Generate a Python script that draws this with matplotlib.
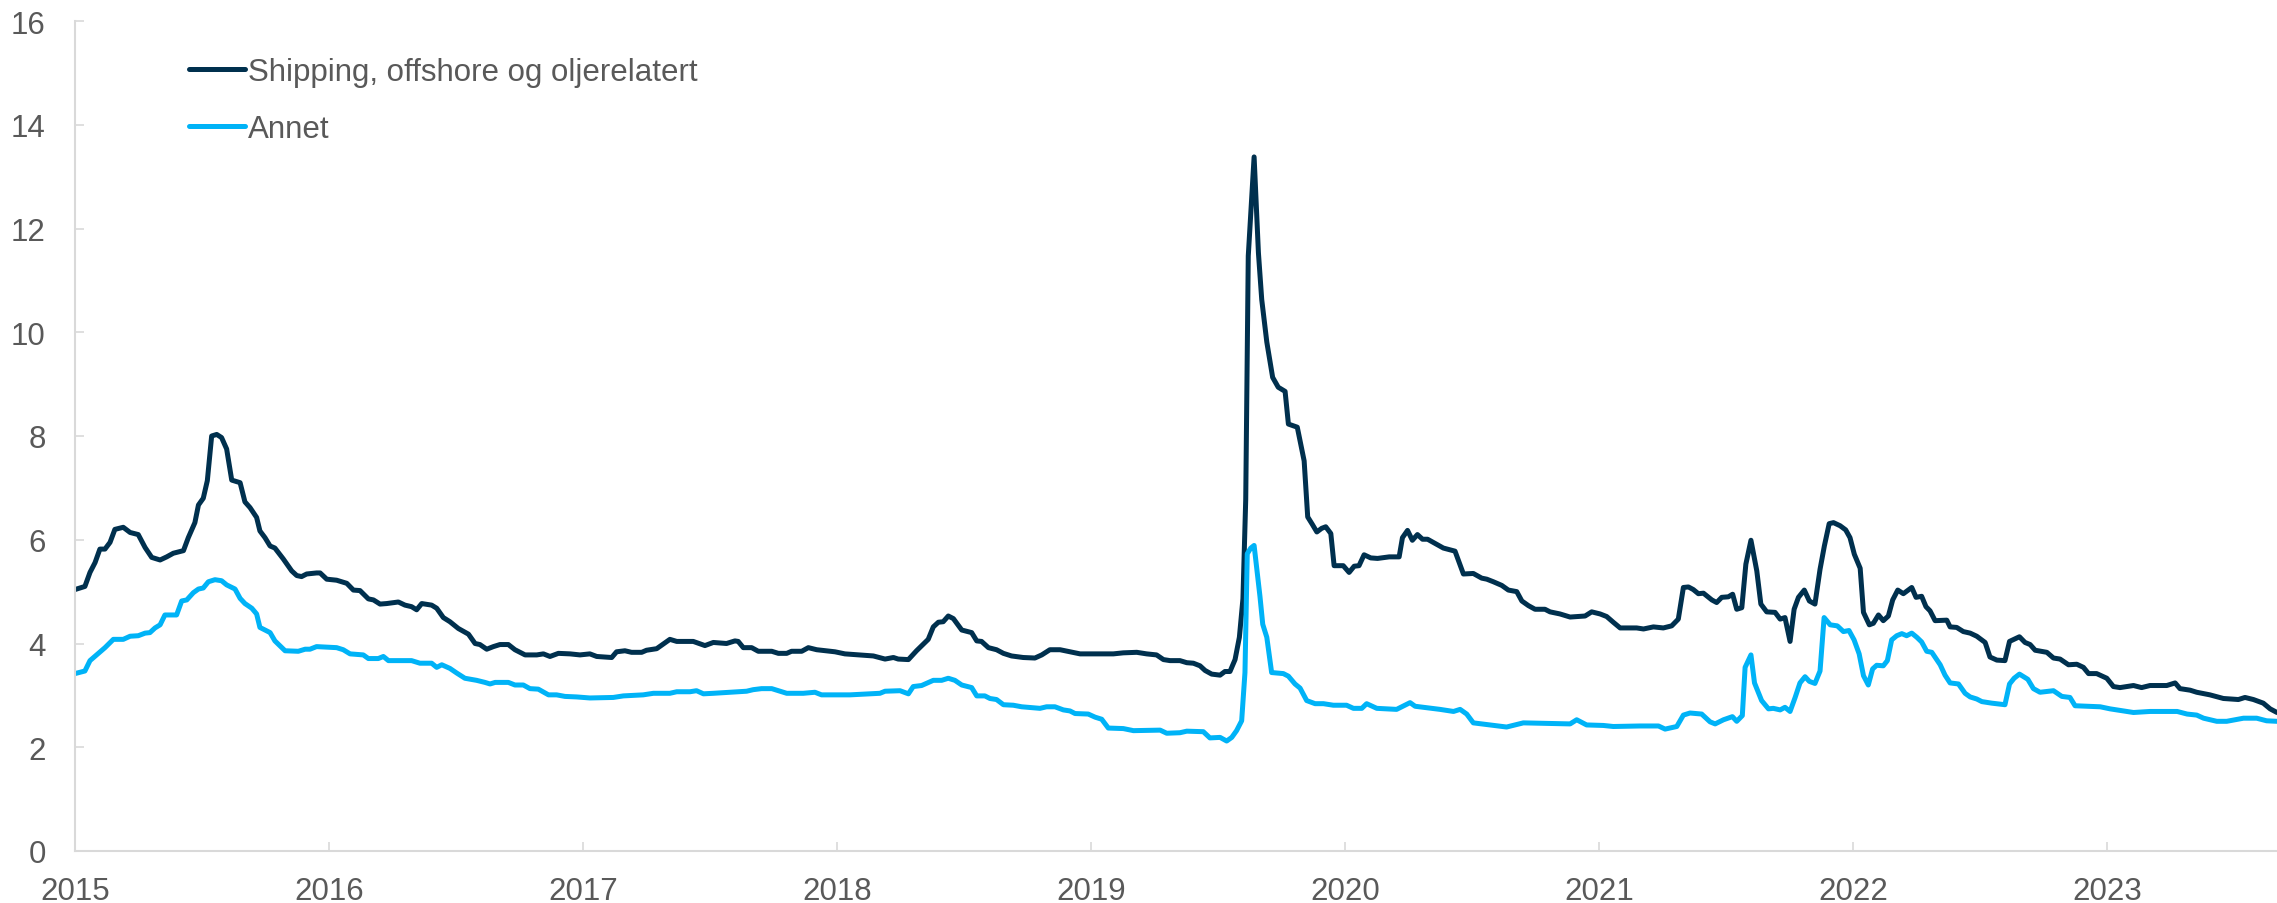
import matplotlib
matplotlib.use('Agg')
from matplotlib import pyplot as plt

# Shipping, offshore og oljerelatert (decimal year, value)
ship_t = [2015.000, 2015.039, 2015.059, 2015.079, 2015.098, 2015.118, 2015.138, 2015.157, 2015.190, 2015.217,
          2015.249, 2015.276, 2015.302, 2015.335, 2015.361, 2015.387, 2015.427, 2015.446, 2015.472, 2015.486,
          2015.505, 2015.521, 2015.538, 2015.558, 2015.577, 2015.597, 2015.617, 2015.650, 2015.669, 2015.689,
          2015.715, 2015.728, 2015.748, 2015.768, 2015.787, 2015.820, 2015.853, 2015.873, 2015.892, 2015.912,
          2015.951, 2015.965, 2015.991, 2016.030, 2016.070, 2016.096, 2016.122, 2016.155, 2016.175, 2016.201,
          2016.227, 2016.273, 2016.299, 2016.325, 2016.345, 2016.365, 2016.404, 2016.424, 2016.450, 2016.476,
          2016.509, 2016.549, 2016.575, 2016.594, 2016.621, 2016.647, 2016.673, 2016.706, 2016.732, 2016.772,
          2016.818, 2016.844, 2016.870, 2016.903, 2016.949, 2016.988, 2017.027, 2017.054, 2017.113, 2017.132,
          2017.165, 2017.191, 2017.231, 2017.250, 2017.290, 2017.316, 2017.342, 2017.369, 2017.434, 2017.480,
          2017.513, 2017.565, 2017.598, 2017.611, 2017.631, 2017.664, 2017.690, 2017.743, 2017.769, 2017.802,
          2017.821, 2017.861, 2017.887, 2017.920, 2017.992, 2018.031, 2018.143, 2018.189, 2018.222, 2018.241,
          2018.281, 2018.313, 2018.340, 2018.359, 2018.379, 2018.399, 2018.418, 2018.438, 2018.458, 2018.491,
          2018.530, 2018.550, 2018.569, 2018.596, 2018.628, 2018.655, 2018.687, 2018.733, 2018.779, 2018.806,
          2018.838, 2018.878, 2018.917, 2018.957, 2019.035, 2019.088, 2019.127, 2019.180, 2019.219, 2019.258,
          2019.285, 2019.311, 2019.350, 2019.377, 2019.403, 2019.429, 2019.449, 2019.475, 2019.508, 2019.527,
          2019.547, 2019.567, 2019.584, 2019.598, 2019.609, 2019.614, 2019.619, 2019.642, 2019.659, 2019.672,
          2019.692, 2019.715, 2019.737, 2019.764, 2019.777, 2019.812, 2019.839, 2019.853, 2019.872, 2019.889,
          2019.908, 2019.924, 2019.944, 2019.957, 2019.993, 2020.016, 2020.036, 2020.055, 2020.075, 2020.101,
          2020.128, 2020.174, 2020.213, 2020.226, 2020.246, 2020.265, 2020.285, 2020.305, 2020.325, 2020.387,
          2020.433, 2020.466, 2020.505, 2020.538, 2020.558, 2020.584, 2020.617, 2020.643, 2020.676, 2020.696,
          2020.722, 2020.748, 2020.787, 2020.807, 2020.846, 2020.886, 2020.945, 2020.971, 2021.004, 2021.030,
          2021.056, 2021.083, 2021.148, 2021.175, 2021.214, 2021.253, 2021.286, 2021.312, 2021.332, 2021.352,
          2021.371, 2021.391, 2021.411, 2021.444, 2021.463, 2021.483, 2021.509, 2021.526, 2021.542, 2021.562,
          2021.578, 2021.598, 2021.621, 2021.637, 2021.660, 2021.693, 2021.713, 2021.732, 2021.752, 2021.768,
          2021.785, 2021.808, 2021.828, 2021.850, 2021.870, 2021.887, 2021.906, 2021.923, 2021.949, 2021.971,
          2021.988, 2022.005, 2022.028, 2022.041, 2022.064, 2022.080, 2022.100, 2022.119, 2022.139, 2022.156,
          2022.176, 2022.198, 2022.231, 2022.248, 2022.270, 2022.287, 2022.303, 2022.323, 2022.369, 2022.382,
          2022.408, 2022.434, 2022.461, 2022.487, 2022.520, 2022.539, 2022.566, 2022.598, 2022.616, 2022.655,
          2022.677, 2022.697, 2022.717, 2022.763, 2022.789, 2022.815, 2022.848, 2022.881, 2022.907, 2022.927,
          2022.959, 2022.999, 2023.025, 2023.051, 2023.104, 2023.136, 2023.169, 2023.235, 2023.268, 2023.287,
          2023.327, 2023.353, 2023.405, 2023.458, 2023.517, 2023.543, 2023.576, 2023.615, 2023.642, 2023.669]
ship_v = [5.04, 5.10, 5.37, 5.56, 5.82, 5.82, 5.95, 6.20, 6.24, 6.14,
          6.10, 5.85, 5.66, 5.61, 5.67, 5.74, 5.79, 6.04, 6.33, 6.67,
          6.80, 7.14, 8.00, 8.03, 7.97, 7.75, 7.15, 7.10, 6.73, 6.62,
          6.43, 6.17, 6.04, 5.88, 5.84, 5.63, 5.40, 5.31, 5.29, 5.34,
          5.36, 5.36, 5.24, 5.22, 5.16, 5.03, 5.02, 4.86, 4.84, 4.76,
          4.77, 4.80, 4.74, 4.71, 4.65, 4.77, 4.74, 4.68, 4.50, 4.42,
          4.29, 4.18, 4.00, 3.98, 3.89, 3.94, 3.98, 3.98, 3.88, 3.78,
          3.78, 3.80, 3.75, 3.81, 3.80, 3.78, 3.80, 3.75, 3.73, 3.84,
          3.86, 3.83, 3.83, 3.87, 3.90, 3.99, 4.08, 4.04, 4.04, 3.96,
          4.02, 4.00, 4.05, 4.04, 3.92, 3.92, 3.85, 3.85, 3.81, 3.81,
          3.85, 3.85, 3.92, 3.88, 3.84, 3.80, 3.76, 3.70, 3.73, 3.70,
          3.69, 3.86, 3.99, 4.08, 4.32, 4.41, 4.42, 4.53, 4.48, 4.26,
          4.21, 4.05, 4.04, 3.92, 3.88, 3.81, 3.76, 3.73, 3.72, 3.78,
          3.88, 3.88, 3.84, 3.80, 3.80, 3.80, 3.82, 3.83, 3.80, 3.78,
          3.69, 3.67, 3.67, 3.63, 3.62, 3.57, 3.48, 3.41, 3.39, 3.46,
          3.46, 3.69, 4.12, 4.86, 6.78, 9.16, 11.47, 13.38, 11.53, 10.63,
          9.81, 9.13, 8.94, 8.86, 8.23, 8.17, 7.52, 6.44, 6.29, 6.15,
          6.22, 6.25, 6.12, 5.50, 5.50, 5.37, 5.49, 5.50, 5.71, 5.65,
          5.64, 5.67, 5.67, 6.04, 6.18, 5.99, 6.10, 6.01, 6.01, 5.84,
          5.78, 5.34, 5.35, 5.26, 5.24, 5.19, 5.12, 5.03, 5.00, 4.82,
          4.73, 4.66, 4.66, 4.61, 4.57, 4.51, 4.53, 4.61, 4.57, 4.52,
          4.41, 4.30, 4.30, 4.28, 4.32, 4.30, 4.34, 4.47, 5.08, 5.09,
          5.04, 4.96, 4.97, 4.84, 4.79, 4.89, 4.90, 4.95, 4.66, 4.69,
          5.53, 5.99, 5.40, 4.76, 4.61, 4.60, 4.47, 4.50, 4.04, 4.66,
          4.89, 5.03, 4.82, 4.76, 5.43, 5.88, 6.31, 6.33, 6.27, 6.19,
          6.04, 5.72, 5.45, 4.60, 4.36, 4.39, 4.55, 4.44, 4.53, 4.84,
          5.03, 4.96, 5.08, 4.89, 4.91, 4.71, 4.63, 4.44, 4.45, 4.32,
          4.31, 4.23, 4.20, 4.14, 4.02, 3.74, 3.68, 3.67, 4.04, 4.13,
          4.02, 3.98, 3.87, 3.83, 3.72, 3.70, 3.59, 3.60, 3.54, 3.42,
          3.42, 3.33, 3.17, 3.15, 3.19, 3.15, 3.19, 3.19, 3.24, 3.13,
          3.10, 3.06, 3.01, 2.94, 2.92, 2.96, 2.92, 2.85, 2.74, 2.67]

# Annet (decimal year, value)
annet_t = [2015.000, 2015.039, 2015.059, 2015.085, 2015.118, 2015.151, 2015.190, 2015.217, 2015.249, 2015.276,
           2015.295, 2015.315, 2015.335, 2015.354, 2015.400, 2015.420, 2015.440, 2015.466, 2015.486, 2015.505,
           2015.525, 2015.551, 2015.577, 2015.597, 2015.630, 2015.650, 2015.669, 2015.696, 2015.715, 2015.728,
           2015.748, 2015.768, 2015.787, 2015.827, 2015.879, 2015.906, 2015.925, 2015.951, 2016.030, 2016.056,
           2016.083, 2016.135, 2016.155, 2016.194, 2016.214, 2016.234, 2016.325, 2016.358, 2016.404, 2016.424,
           2016.444, 2016.476, 2016.503, 2016.535, 2016.581, 2016.614, 2016.634, 2016.654, 2016.706, 2016.732,
           2016.765, 2016.791, 2016.824, 2016.864, 2016.896, 2016.929, 2016.975, 2017.027, 2017.119, 2017.159,
           2017.237, 2017.277, 2017.342, 2017.369, 2017.421, 2017.447, 2017.474, 2017.513, 2017.644, 2017.670,
           2017.703, 2017.743, 2017.802, 2017.867, 2017.913, 2017.939, 2018.051, 2018.169, 2018.189, 2018.248,
           2018.281, 2018.300, 2018.333, 2018.379, 2018.412, 2018.438, 2018.464, 2018.491, 2018.530, 2018.550,
           2018.582, 2018.602, 2018.628, 2018.655, 2018.694, 2018.727, 2018.799, 2018.825, 2018.858, 2018.891,
           2018.917, 2018.937, 2018.989, 2019.016, 2019.042, 2019.068, 2019.127, 2019.167, 2019.272, 2019.298,
           2019.350, 2019.377, 2019.442, 2019.468, 2019.508, 2019.534, 2019.554, 2019.573, 2019.593, 2019.606,
           2019.615, 2019.629, 2019.642, 2019.652, 2019.665, 2019.676, 2019.692, 2019.711, 2019.757, 2019.777,
           2019.803, 2019.823, 2019.849, 2019.882, 2019.915, 2019.954, 2020.006, 2020.033, 2020.066, 2020.085,
           2020.125, 2020.203, 2020.256, 2020.276, 2020.374, 2020.427, 2020.453, 2020.479, 2020.505, 2020.636,
           2020.702, 2020.886, 2020.912, 2020.951, 2021.017, 2021.056, 2021.161, 2021.234, 2021.260, 2021.306,
           2021.332, 2021.358, 2021.404, 2021.437, 2021.457, 2021.490, 2021.525, 2021.542, 2021.564, 2021.575,
           2021.598, 2021.612, 2021.640, 2021.667, 2021.686, 2021.713, 2021.732, 2021.752, 2021.772, 2021.791,
           2021.811, 2021.828, 2021.850, 2021.870, 2021.886, 2021.910, 2021.938, 2021.962, 2021.984, 2022.004,
           2022.024, 2022.041, 2022.060, 2022.077, 2022.093, 2022.119, 2022.135, 2022.152, 2022.172, 2022.192,
           2022.211, 2022.231, 2022.251, 2022.270, 2022.290, 2022.310, 2022.343, 2022.362, 2022.382, 2022.415,
           2022.441, 2022.461, 2022.487, 2022.507, 2022.546, 2022.598, 2022.616, 2022.634, 2022.655, 2022.688,
           2022.710, 2022.736, 2022.789, 2022.822, 2022.854, 2022.874, 2022.973, 2023.012, 2023.104, 2023.169,
           2023.276, 2023.315, 2023.353, 2023.380, 2023.432, 2023.471, 2023.537, 2023.589, 2023.628, 2023.669]
annet_v = [3.42, 3.47, 3.67, 3.78, 3.92, 4.08, 4.08, 4.14, 4.15, 4.20,
           4.21, 4.30, 4.36, 4.55, 4.55, 4.82, 4.84, 4.98, 5.05, 5.07,
           5.19, 5.23, 5.21, 5.13, 5.05, 4.87, 4.77, 4.68, 4.57, 4.31,
           4.26, 4.21, 4.05, 3.86, 3.85, 3.89, 3.89, 3.94, 3.92, 3.88,
           3.80, 3.78, 3.71, 3.71, 3.75, 3.67, 3.67, 3.62, 3.62, 3.54,
           3.59, 3.52, 3.43, 3.33, 3.29, 3.25, 3.22, 3.25, 3.25, 3.20,
           3.20, 3.13, 3.12, 3.01, 3.01, 2.98, 2.97, 2.95, 2.96, 2.99,
           3.01, 3.04, 3.04, 3.07, 3.07, 3.09, 3.03, 3.04, 3.08, 3.11,
           3.13, 3.13, 3.04, 3.04, 3.06, 3.01, 3.01, 3.04, 3.08, 3.09,
           3.03, 3.17, 3.19, 3.29, 3.29, 3.33, 3.29, 3.20, 3.15, 2.99,
           2.99, 2.94, 2.92, 2.82, 2.81, 2.78, 2.75, 2.78, 2.78, 2.72,
           2.70, 2.65, 2.64, 2.58, 2.54, 2.37, 2.36, 2.32, 2.33, 2.27,
           2.28, 2.31, 2.30, 2.18, 2.19, 2.12, 2.19, 2.32, 2.51, 3.44,
           5.73, 5.84, 5.89, 5.47, 4.91, 4.37, 4.12, 3.44, 3.42, 3.37,
           3.22, 3.14, 2.90, 2.84, 2.84, 2.81, 2.81, 2.75, 2.75, 2.84,
           2.75, 2.73, 2.86, 2.79, 2.73, 2.69, 2.73, 2.64, 2.47, 2.39,
           2.47, 2.45, 2.53, 2.43, 2.42, 2.40, 2.41, 2.41, 2.35, 2.40,
           2.62, 2.66, 2.64, 2.49, 2.45, 2.53, 2.59, 2.50, 2.61, 3.54,
           3.78, 3.24, 2.90, 2.74, 2.75, 2.72, 2.77, 2.69, 2.96, 3.24,
           3.36, 3.27, 3.23, 3.47, 4.50, 4.36, 4.34, 4.23, 4.25, 4.07,
           3.80, 3.38, 3.20, 3.51, 3.58, 3.57, 3.67, 4.07, 4.15, 4.19,
           4.15, 4.20, 4.12, 4.03, 3.85, 3.83, 3.59, 3.39, 3.24, 3.22,
           3.04, 2.97, 2.93, 2.88, 2.85, 2.82, 3.22, 3.33, 3.41, 3.31,
           3.13, 3.06, 3.09, 2.98, 2.96, 2.80, 2.78, 2.74, 2.67, 2.69,
           2.69, 2.64, 2.62, 2.56, 2.50, 2.50, 2.56, 2.56, 2.51, 2.50]

years = [2015, 2016, 2017, 2018, 2019, 2020, 2021, 2022, 2023]
y_ticks = [0, 2, 4, 6, 8, 10, 12, 14, 16]

plt.rcParams['font.family'] = ['Liberation Sans', 'DejaVu Sans']
text_grey = '#595959'
axis_grey = '#D9D9D9'
font_size = 22.5

fig = plt.figure(figsize=(22.77, 9.04), dpi=100)
ax = fig.add_axes([75 / 2277, 1 - 852 / 904, 1 - 75 / 2277, (852 - 22) / 904])

ax.plot(ship_t, ship_v, color='#00304E', lw=3.6, label='Shipping, offshore og oljerelatert',
        solid_joinstyle='round', solid_capstyle='round')
ax.plot(annet_t, annet_v, color='#00B3F7', lw=3.6, label='Annet',
        solid_joinstyle='round', solid_capstyle='round')

ax.set_xlim(2015, 2023.669)
ax.set_ylim(0, 16)
ax.set_xticks(years)
ax.set_xticklabels([str(y) for y in years])
ax.set_yticks(y_ticks)

# Excel look: light grey axes, inward ticks, no frame on top/right
for side in ['top', 'right']:
    ax.spines[side].set_visible(False)
for side in ['left', 'bottom']:
    ax.spines[side].set_color(axis_grey)
    ax.spines[side].set_linewidth(1.5)
ax.tick_params(axis='both', direction='in', length=6.5, width=1.2, color=axis_grey,
               labelsize=font_size, labelcolor=text_grey)
ax.tick_params(axis='y', pad=21)
ax.tick_params(axis='x', pad=18)
for lbl in ax.get_xticklabels():
    lbl.set_clip_on(False)

leg = ax.legend(loc='upper left', bbox_to_anchor=(189 / 2277, 1 - 58 / 904), bbox_transform=fig.transFigure,
                frameon=False, fontsize=font_size, handlelength=1.8, handletextpad=0.08, labelspacing=0.85,
                borderpad=0, borderaxespad=0)
for t in leg.get_texts():
    t.set_color(text_grey)

fig.savefig('out.png', dpi=100)
